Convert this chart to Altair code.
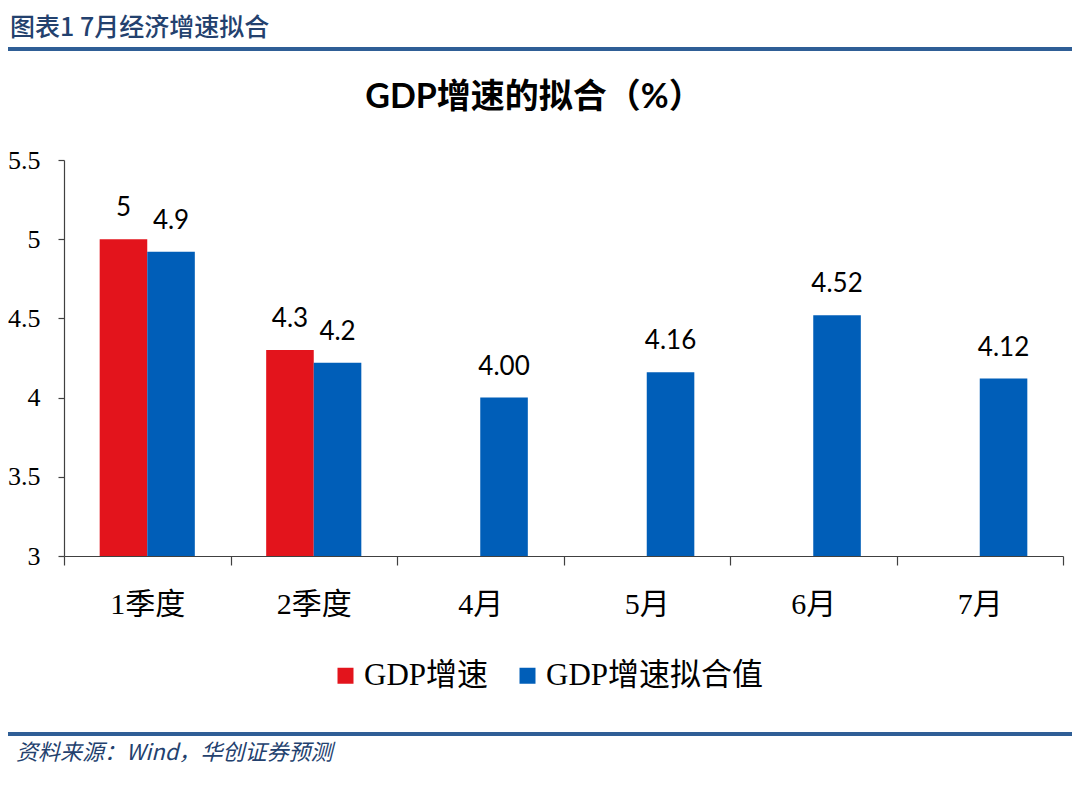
import altair as alt
import pandas as pd

categories = ["1季度", "2季度", "4月", "5月", "6月", "7月"]
series_names = ["GDP增速", "GDP增速拟合值"]
gdp_values = [5.0, 4.3]
gdp_labels = ["5", "4.3"]
fit_values = [4.92, 4.22, 4.00, 4.16, 4.52, 4.12]
fit_labels = ["4.9", "4.2", "4.00", "4.16", "4.52", "4.12"]
y_ticks = [3, 3.5, 4, 4.5, 5, 5.5]

header_text = "图表1  7月经济增速拟合"
title_text = "GDP增速的拟合（%）"
footer_text = "资料来源：Wind，华创证券预测"

rows = []
for c, v, l in zip(categories[:len(gdp_values)], gdp_values, gdp_labels):
    rows.append({"cat": c, "series": series_names[0], "value": v, "label": l})
for c, v, l in zip(categories, fit_values, fit_labels):
    rows.append({"cat": c, "series": series_names[1], "value": v, "label": l})
df = pd.DataFrame(rows)

RED = "#E3141C"
BLUE = "#005EB8"
LINE_BLUE = "#2F5E96"
TEXT_BLUE = "#23416E"
SERIF = "Liberation Serif, Noto Sans CJK SC"
SANS = "Lato, Noto Sans CJK SC"

W, H = 999, 396

x_enc = alt.X("cat:N", sort=categories,
              scale=alt.Scale(paddingInner=0, paddingOuter=0),
              axis=alt.Axis(title=None, labelAngle=0, tickBand="extent",
                            labelFont=SERIF, labelFontSize=30, labelColor="#000000",
                            labelPadding=24, tickSize=9, tickColor="#404040",
                            domainColor="#404040", tickWidth=1.2, domainWidth=1.2))
xo_enc = alt.XOffset("series:N", sort=series_names,
                     scale=alt.Scale(domain=series_names, paddingInner=0, paddingOuter=0.75))
y_enc = alt.Y("value:Q",
              scale=alt.Scale(domain=[3, 5.5], nice=False, zero=False),
              axis=alt.Axis(title=None, values=y_ticks, format="~g", grid=False,
                            labelFont=SERIF, labelFontSize=26, labelColor="#000000",
                            labelPadding=18, tickSize=6, tickColor="#404040",
                            domainColor="#404040", tickWidth=1.2, domainWidth=1.2))

bars = alt.Chart(df).mark_bar(clip=True).encode(
    x=x_enc, xOffset=xo_enc, y=y_enc,
    color=alt.Color("series:N", sort=series_names,
                    scale=alt.Scale(domain=series_names, range=[RED, BLUE]),
                    legend=alt.Legend(title=None, orient="none", direction="horizontal",
                                      legendX=266, legendY=500,
                                      symbolType="square", symbolSize=256,
                                      symbolStrokeWidth=0,
                                      labelFont=SERIF, labelFontSize=31,
                                      labelColor="#000000", labelOffset=3,
                                      columnPadding=23, labelLimit=400)),
)

labels = alt.Chart(df).mark_text(
    baseline="alphabetic", dy=-23, font=SANS, fontSize=26, color="#000000"
).encode(x=x_enc, xOffset=xo_enc, y=y_enc, text="label:N")

one = pd.DataFrame({"k": [0]})

header = alt.Chart(one).mark_text(
    align="left", baseline="middle", font="Noto Sans CJK SC", fontSize=25,
    fontWeight=500, color=TEXT_BLUE
).encode(x=alt.value(-54), y=alt.value(-132), text=alt.value(header_text))

title = alt.Chart(one).mark_text(
    align="center", baseline="middle", font=SANS, fontSize=34,
    fontWeight="bold", color="#000000"
).encode(x=alt.value(470), y=alt.value(-62), text=alt.value(title_text))

footer = alt.Chart(one).mark_text(
    align="left", baseline="middle", font="Noto Sans CJK SC", fontSize=22,
    fontStyle="italic", color=TEXT_BLUE
).encode(x=alt.value(-48), y=alt.value(593), text=alt.value(footer_text))

top_line = alt.Chart(one).mark_rule(color=LINE_BLUE, strokeWidth=4).encode(
    x=alt.value(-60), x2=alt.value(W + 20), y=alt.value(-111))
bottom_line = alt.Chart(one).mark_rule(color=LINE_BLUE, strokeWidth=4).encode(
    x=alt.value(-60), x2=alt.value(W + 20), y=alt.value(574))

chart = alt.layer(bars, labels, header, title, footer, top_line, bottom_line).properties(
    width=W, height=H,
    autosize=alt.AutoSizeParams(type="none"),
    padding={"left": 56, "top": 152, "right": 9, "bottom": 220},
    background="#FFFFFF",
).configure_view(stroke=None)

chart.save("out.html", embed_options={"renderer": "svg", "actions": False})
